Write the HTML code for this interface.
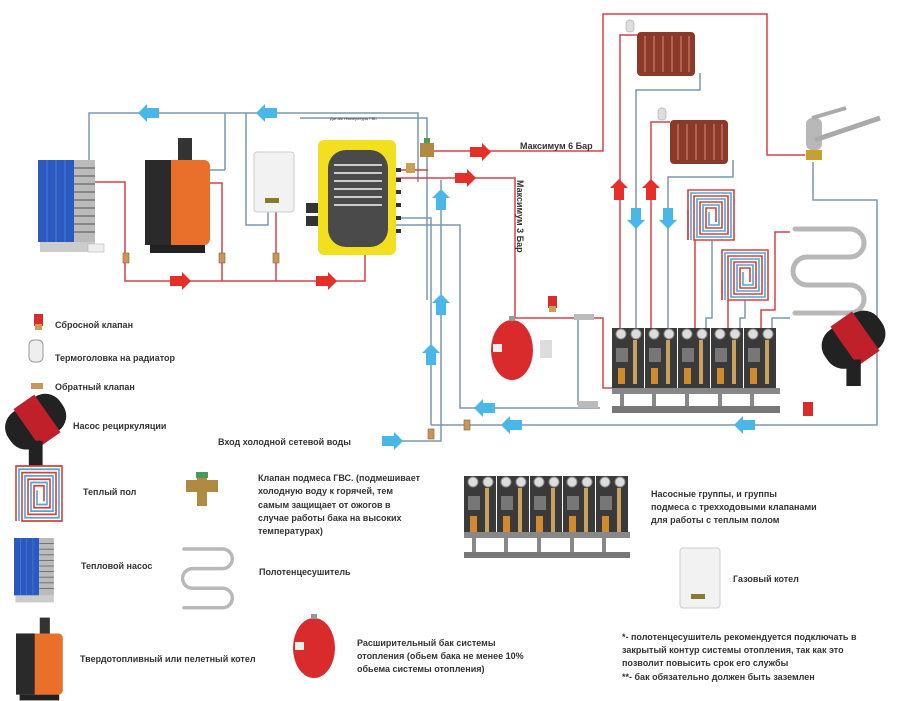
<!DOCTYPE html>
<html><head><meta charset="utf-8"><style>
html,body{margin:0;padding:0;background:#fff;width:900px;height:701px;overflow:hidden}
svg{display:block}
text{font-family:"Liberation Sans","DejaVu Sans",sans-serif;font-weight:bold;font-size:9px;fill:#333}
</style></head><body>
<svg width="900" height="701" viewBox="0 0 900 701" xmlns="http://www.w3.org/2000/svg">
<defs>
<g id="ar"><polygon points="-10,-5 2,-5 2,-9 11,0 2,9 2,5 -10,5" fill="#e5302a"/></g>
<g id="ab"><polygon points="-10,-5 2,-5 2,-9 11,0 2,9 2,5 -10,5" fill="#49b8e8"/></g>
<g id="cv"><rect x="-3" y="-5" width="6" height="10" fill="#c8965a" stroke="#8a6030" stroke-width="0.6"/></g>
<g id="mod">
<rect x="0" y="0" width="32" height="60" fill="#3a3a3a"/>
<circle cx="9" cy="6" r="5" fill="#ddd" stroke="#888"/><circle cx="24" cy="6" r="5" fill="#ddd" stroke="#888"/>
<rect x="21" y="12" width="4" height="44" fill="#c8a060"/>
<rect x="4" y="20" width="12" height="14" fill="#777"/>
<rect x="6" y="40" width="7" height="16" fill="#d08a30"/>
</g>
<g id="rad">
<rect x="0" y="0" width="58" height="44" rx="4" fill="#8b3a2a"/>
<g stroke="#c07060" stroke-width="1.5"><line x1="8" y1="4" x2="8" y2="40"/><line x1="17" y1="4" x2="17" y2="40"/><line x1="26" y1="4" x2="26" y2="40"/><line x1="35" y1="4" x2="35" y2="40"/><line x1="44" y1="4" x2="44" y2="40"/><line x1="52" y1="4" x2="52" y2="40"/></g>
</g>
<g id="coil" fill="none" stroke-width="1.6">
<path d="M0,50 V0 H46 V50 H6 V6 H40 V44 H12 V12 H34 V38 H18 V18 H28 V32" stroke="#d9403a"/>
<path d="M3,50 V3 H43 V47 H9 V9 H37 V41 H15 V15 H31 V35 H21 V22" stroke="#4aa8d8"/>
</g>
<g id="tank"><ellipse cx="0" cy="0" rx="21" ry="30" fill="#d92b2b"/><rect x="-3" y="-34" width="6" height="5" fill="#999"/><rect x="-19" y="-6" width="9" height="8" fill="#eee"/></g>
<g id="towel" fill="none" stroke="#b8b8b8" stroke-width="5" stroke-linecap="round">
<path d="M0,0 H55 a14,14 0 0 1 0,28 H12 a14,14 0 0 0 0,28 H55 a14,14 0 0 1 0,28 H0"/>
</g>
<g id="pump"><g transform="rotate(-35)"><rect x="-30" y="-18" width="55" height="36" rx="16" fill="#222"/><rect x="-12" y="-20" width="22" height="40" fill="#c0202a"/></g><rect x="-8" y="18" width="12" height="22" fill="#222"/></g>
<g id="hp"><rect x="0" y="0" width="36" height="82" fill="#2a5ac0"/><g stroke="#6a90e0" stroke-width="0.6"><line x1="9" y1="0" x2="9" y2="82"/><line x1="18" y1="0" x2="18" y2="82"/><line x1="27" y1="0" x2="27" y2="82"/></g><rect x="36" y="0" width="21" height="82" fill="#bbb"/><g stroke="#666" stroke-width="1.2"><line x1="36" y1="8" x2="57" y2="8"/><line x1="36" y1="16" x2="57" y2="16"/><line x1="36" y1="24" x2="57" y2="24"/><line x1="36" y1="32" x2="57" y2="32"/><line x1="36" y1="40" x2="57" y2="40"/><line x1="36" y1="48" x2="57" y2="48"/><line x1="36" y1="56" x2="57" y2="56"/><line x1="36" y1="64" x2="57" y2="64"/><line x1="36" y1="72" x2="57" y2="72"/></g><rect x="2" y="82" width="55" height="10" fill="#ccc"/></g>
<g id="boiler"><rect x="33" y="-20" width="14" height="24" fill="#333"/><rect x="0" y="2" width="65" height="85" rx="6" fill="#e8702a"/><rect x="0" y="2" width="26" height="85" fill="#2a2a2a"/><rect x="5" y="87" width="55" height="8" fill="#222"/></g>
<g id="gas"><rect x="0" y="0" width="40" height="60" rx="3" fill="#f2f2f2" stroke="#ccc"/><rect x="11" y="46" width="14" height="5" fill="#8a7a30"/></g>
</defs>

<g fill="none" stroke="#7a98b0" stroke-width="1.5">
<path d="M89,160 V113 H418 V182"/>
<path d="M225,170 H210 M225,170 V113"/>
<path d="M246,113 V225 H268 V212"/>
<path d="M300,118 H427 V300"/>
<path d="M395,218 H431 V425"/>
<path d="M395,225 H460 V408 H600"/>
<path d="M441,180 V441 H400"/>
<path d="M431,425 H877 V200 H813 V162"/>
<path d="M636,328 V90 H700 V73"/>
<path d="M668,328 V177 H733 V160"/>
<path d="M578,318 V405"/>
</g>
<g fill="none" stroke="#d9404a" stroke-width="1.5">
<path d="M95,182 H125 V281 H365 V210 H395"/>
<path d="M210,183 H222 V281"/>
<path d="M276,212 V281"/>
<path d="M395,170 H428 M428,151 H603 V14 H767 V155 H805"/>
<path d="M395,178 H515 V318 H578"/>
<path d="M586,318 H603 V388 H612"/>
<path d="M620,328 V35 H637"/>
<path d="M651,328 V122 H670"/>
</g>
<g fill="none" stroke-width="1.5">
<path d="M695,328 V240 M688,240 V210" stroke="#d9404a"/>
<path d="M706,328 V318 H712 V240" stroke="#7a98b0"/>
<path d="M728,328 V300 M722,300 V280" stroke="#d9404a"/>
<path d="M740,328 V318 H745 V300" stroke="#7a98b0"/>
<path d="M761,328 V310 H775 V232 H790" stroke="#d9404a"/>
<path d="M772,328 V318 H790" stroke="#7a98b0"/>
</g>

<use href="#hp" x="38" y="160"/>
<rect x="88" y="244" width="16" height="8" fill="#eee" stroke="#aaa" stroke-width="0.5"/>
<use href="#boiler" x="145" y="158"/>
<use href="#gas" x="254" y="152"/>
<rect x="318" y="140" width="78" height="115" rx="6" fill="#f2e020"/>
<rect x="328" y="150" width="60" height="97" rx="18" fill="#4a4a4a"/>
<g stroke="#ccc" stroke-width="2" fill="none"><path d="M334,165 H382 M334,173 H382 M334,181 H382 M334,189 H382 M334,197 H382 M334,205 H382"/></g>
<rect x="306" y="203" width="12" height="10" fill="#333"/><rect x="306" y="216" width="12" height="10" fill="#333"/>
<g fill="#333"><rect x="396" y="168" width="5" height="4"/><rect x="396" y="178" width="5" height="4"/><rect x="396" y="190" width="5" height="4"/><rect x="396" y="203" width="5" height="4"/><rect x="396" y="216" width="5" height="4"/><rect x="396" y="229" width="5" height="4"/></g>
<text x="330" y="120" style="font-size:4px;font-weight:normal">Датчик температуры ГВС</text>
<rect x="420" y="143" width="14" height="14" fill="#b08a40"/><rect x="424" y="138" width="6" height="5" fill="#4a9a5a"/>
<rect x="406" y="163" width="9" height="10" fill="#c8a050"/>

<use href="#cv" x="126" y="258"/><use href="#cv" x="222" y="258"/><use href="#cv" x="276" y="258"/><use href="#cv" x="431" y="434"/><use href="#cv" x="467" y="425"/>

<use href="#ab" transform="translate(149,113) scale(-1,1)"/>
<use href="#ab" transform="translate(267,113) scale(-1,1)"/>
<use href="#ar" x="180" y="281"/><use href="#ar" x="326" y="281"/>
<use href="#ar" x="480" y="152"/><use href="#ar" x="465" y="178"/>
<use href="#ab" transform="translate(441,200) rotate(-90)"/>
<use href="#ab" transform="translate(441,305) rotate(-90)"/>
<use href="#ab" transform="translate(431,355) rotate(-90)"/>
<use href="#ab" transform="translate(485,408) scale(-1,1)"/>
<use href="#ab" transform="translate(512,425) scale(-1,1)"/>
<use href="#ab" transform="translate(745,425) scale(-1,1)"/>
<use href="#ab" x="392" y="441"/>
<use href="#ar" transform="translate(619,190) rotate(-90)"/>
<use href="#ar" transform="translate(651,190) rotate(-90)"/>
<use href="#ab" transform="translate(636,218) rotate(90)"/>
<use href="#ab" transform="translate(668,218) rotate(90)"/>

<text x="520" y="149">Максимум 6 Бар</text>
<text transform="translate(517,180) rotate(90)">Максимум 3 Бар</text>

<use href="#tank" x="512" y="350"/>
<rect x="548" y="296" width="9" height="12" fill="#d92b2b"/><rect x="549" y="306" width="7" height="6" fill="#c8a050"/>
<rect x="540" y="340" width="12" height="18" fill="#ddd"/>
<rect x="574" y="314" width="20" height="6" fill="#bbb"/><rect x="578" y="401" width="20" height="7" fill="#bbb"/>

<use href="#rad" x="637" y="32"/><use href="#rad" x="670" y="120"/>
<rect x="626" y="20" width="8" height="12" rx="3" fill="#ddd" stroke="#999" stroke-width="0.5"/>
<rect x="658" y="108" width="8" height="12" rx="3" fill="#ddd" stroke="#999" stroke-width="0.5"/>
<rect x="806" y="150" width="16" height="10" fill="#c8a030"/>
<rect x="806" y="118" width="16" height="32" rx="6" fill="#b8b8b8"/>
<path d="M815,140 L880,118" stroke="#aaa" stroke-width="5" fill="none"/>
<path d="M812,118 L846,108" stroke="#aaa" stroke-width="4" fill="none"/>

<use href="#coil" x="688" y="190"/><use href="#coil" x="722" y="250"/>
<use href="#towel" x="795" y="229"/>
<g transform="translate(856,338) scale(1.2)"><use href="#pump"/></g>
<rect x="803" y="402" width="10" height="14" fill="#d92b2b"/>

<g><use href="#mod" x="612" y="328"/><use href="#mod" x="645" y="328"/><use href="#mod" x="678" y="328"/><use href="#mod" x="711" y="328"/><use href="#mod" x="744" y="328"/>
<rect x="612" y="388" width="168" height="6" fill="#888"/><rect x="612" y="406" width="168" height="7" fill="#777"/>
<g fill="#888"><rect x="620" y="394" width="4" height="12"/><rect x="652" y="394" width="4" height="12"/><rect x="685" y="394" width="4" height="12"/><rect x="718" y="394" width="4" height="12"/><rect x="750" y="394" width="4" height="12"/></g></g>

<rect x="34" y="314" width="9" height="12" fill="#d92b2b"/><rect x="35" y="324" width="7" height="6" fill="#c8a050"/>
<text x="55" y="328">Сбросной клапан</text>
<rect x="29" y="340" width="14" height="22" rx="5" fill="#eee" stroke="#999"/>
<text x="55" y="361">Термоголовка на радиатор</text>
<rect x="31" y="383" width="12" height="6" fill="#c8965a"/>
<text x="55" y="390">Обратный клапан</text>
<g transform="translate(38,420) scale(1.15)"><use href="#pump"/></g>
<text x="73" y="429">Насос рециркуляции</text>
<text x="218" y="445">Вход холодной сетевой воды</text>
<g transform="translate(16,466) scale(1,1.1)"><use href="#coil"/></g>
<text x="83" y="495">Теплый пол</text>
<rect x="186" y="480" width="32" height="12" fill="#b08a40"/><rect x="197" y="474" width="10" height="32" fill="#b08a40"/><rect x="196" y="472" width="12" height="6" fill="#4a9a5a"/>
<text x="258" y="481">Клапан подмеса ГВС. (подмешивает</text>
<text x="258" y="494">холодную воду к горячей, тем</text>
<text x="258" y="508">самым защищает от ожогов в</text>
<text x="258" y="521">случае работы бака на высоких</text>
<text x="258" y="534">температурах)</text>
<g transform="translate(14,538) scale(0.7)"><use href="#hp"/></g>
<text x="81" y="569">Тепловой насос</text>
<g transform="translate(184,549) scale(0.7)"><use href="#towel"/></g>
<text x="259" y="575">Полотенцесушитель</text>
<g transform="translate(16,632) scale(0.72)"><use href="#boiler"/></g>
<text x="80" y="662">Твердотопливный или пелетный котел</text>
<use href="#tank" x="314" y="648"/>
<text x="357" y="646">Расширительный бак системы</text>
<text x="357" y="659">отопления (обьем бака не менее 10%</text>
<text x="357" y="672">обьема системы отопления)</text>
<g><use href="#mod" x="464" y="476"/><use href="#mod" x="497" y="476"/><use href="#mod" x="530" y="476"/><use href="#mod" x="563" y="476"/><use href="#mod" x="596" y="476"/>
<rect x="464" y="532" width="166" height="6" fill="#888"/><rect x="464" y="552" width="166" height="6" fill="#777"/>
<g fill="#888"><rect x="472" y="538" width="4" height="14"/><rect x="504" y="538" width="4" height="14"/><rect x="537" y="538" width="4" height="14"/><rect x="570" y="538" width="4" height="14"/><rect x="602" y="538" width="4" height="14"/></g></g>
<text x="651" y="497">Насосные группы, и группы</text>
<text x="651" y="510">подмеса с трехходовыми клапанами</text>
<text x="651" y="523">для работы с теплым полом</text>
<use href="#gas" x="680" y="548"/>
<text x="733" y="582">Газовый котел</text>
<text x="622" y="640">*- полотенцесушитель рекомендуется подключать в</text>
<text x="622" y="653">закрытый контур системы отопления, так как это</text>
<text x="622" y="666">позволит повысить срок его службы</text>
<text x="622" y="680">**- бак обязательно должен быть заземлен</text>
</svg>
</body></html>
